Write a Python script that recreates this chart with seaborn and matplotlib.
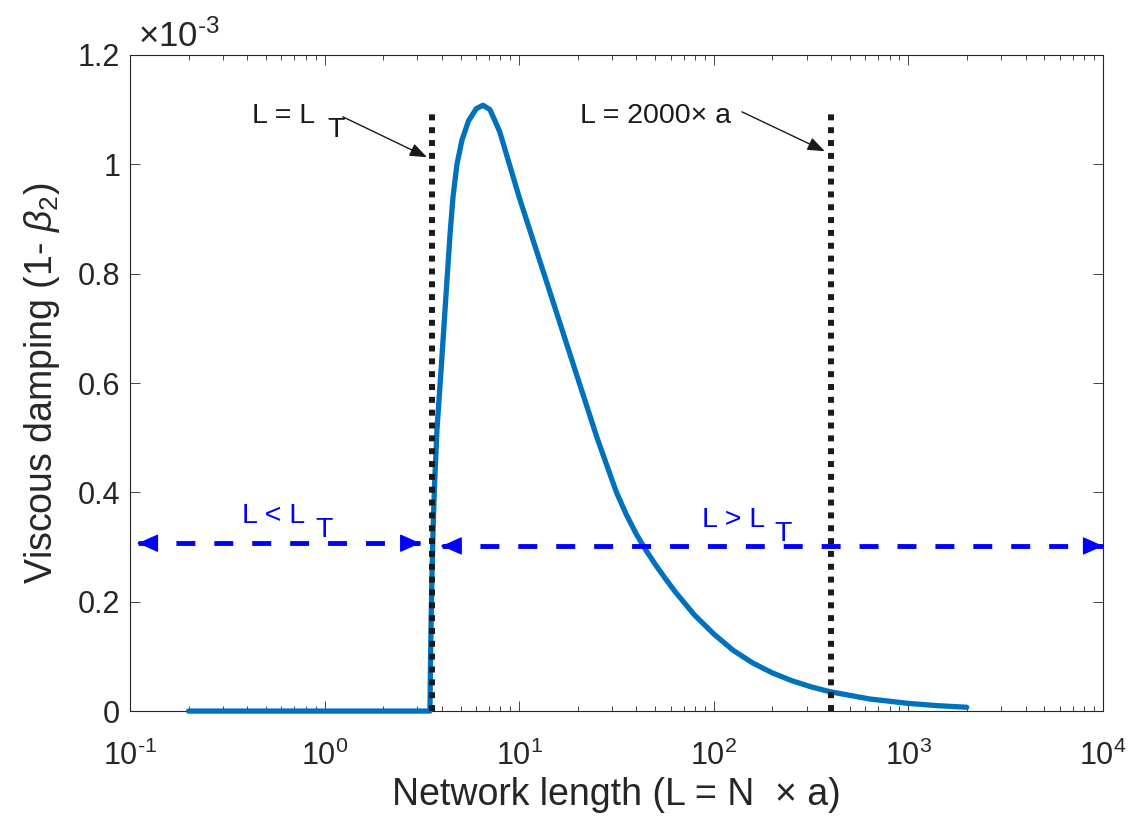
import matplotlib
matplotlib.use('Agg')
import numpy as np
import pandas as pd
import matplotlib.pyplot as plt
import seaborn as sns
from matplotlib.patches import ArrowStyle

# curve (damping in units of 1e-3)
L_vals = [0.2, 3.48, 3.50, 3.53, 3.565, 3.61, 3.67, 3.78, 3.98, 4.26, 4.42, 4.57,
          4.79, 5.08, 5.50, 6.03, 6.52, 7.08, 7.94, 8.91, 10.0, 11.22, 12.59,
          14.13, 15.85, 17.78, 19.95, 22.39, 25.12, 28.18, 31.62, 35.48, 39.81,
          44.67, 50.12, 56.23, 63.10, 79.43, 100.0, 125.9, 158.5, 199.5, 251.2,
          316.2, 398.1, 631.0, 1000.0, 1413.0, 1995.0]
damping = [0.0, 0.0, 0.08, 0.17, 0.25, 0.33, 0.41, 0.514, 0.63, 0.79, 0.875, 0.94,
           1.0, 1.044, 1.080, 1.102, 1.108, 1.100, 1.06, 1.0, 0.94, 0.885, 0.83,
           0.775, 0.72, 0.665, 0.61, 0.555, 0.50, 0.45, 0.40, 0.36, 0.325,
           0.295, 0.268, 0.243, 0.219, 0.176, 0.141, 0.111, 0.088, 0.070, 0.0557,
           0.0443, 0.0352, 0.0222, 0.014, 0.0099, 0.007]

# marker lines
L_T = 3.57
L_2000 = 400.0
vline_top = 1.1

# double arrows
left_span = [0.11, 3.1]
left_y = 0.307
right_span = [4.0, 1e4]
right_y = 0.302

x_ticks = [0.1, 1, 10, 100, 1000, 10000]
x_tick_labels = [r'$10^{\text{-}1}$', r'$10^{0}$', r'$10^{1}$', r'$10^{2}$',
                 r'$10^{3}$', r'$10^{4}$']
y_ticks = [0, 0.2, 0.4, 0.6, 0.8, 1.0, 1.2]
y_tick_labels = ['0', '0.2', '0.4', '0.6', '0.8', '1', '1.2']

sns.set_theme(style='ticks')
plt.rcParams['font.family'] = ['Liberation Sans', 'DejaVu Sans']
plt.rcParams['mathtext.fontset'] = 'custom'
plt.rcParams['mathtext.rm'] = 'Liberation Sans'
plt.rcParams['mathtext.it'] = 'Liberation Sans:italic'
plt.rcParams['mathtext.default'] = 'regular'
plt.rcParams['axes.unicode_minus'] = False

txt = '#262626'
fig = plt.figure(figsize=(11.33, 8.23), dpi=100)
ax = fig.add_axes([0.1147, 0.136, 0.8588, 0.7972])
ax.set_xscale('log')

df = pd.DataFrame({'L': L_vals, 'damping': damping})
sns.lineplot(data=df, x='L', y='damping', ax=ax, estimator=None, sort=False,
             color='#0072BD', lw=3.8, clip_on=False, zorder=3)

for xv in [L_T, L_2000]:
    ax.plot([xv, xv], [0, vline_top], color='k', lw=4.3, dashes=(1.0, 1.15),
            dash_capstyle='butt', zorder=4, clip_on=False)

# dashed blue double arrows
head = ArrowStyle('-|>', head_length=0.85, head_width=0.38)
for span, yv in [(left_span, left_y), (right_span, right_y)]:
    ax.plot(span, [yv, yv], color='blue', lw=3.5, dashes=(3.9, 3.9), zorder=5)
    ax.annotate('', xy=(span[0], yv), xytext=(span[0] * 1.01, yv),
                arrowprops=dict(arrowstyle=head, color='blue', lw=1,
                                mutation_scale=15, shrinkA=0, shrinkB=0), zorder=6)
    ax.annotate('', xy=(span[1], yv), xytext=(span[1] / 1.01, yv),
                arrowprops=dict(arrowstyle=head, color='blue', lw=1,
                                mutation_scale=15, shrinkA=0, shrinkB=0), zorder=6)

# black pointer arrows
thin = ArrowStyle('-|>', head_length=0.65, head_width=0.25)
ax.annotate('', xy=(3.36, 1.013), xytext=(1.24, 1.087),
            arrowprops=dict(arrowstyle=thin, color='k', lw=1, mutation_scale=16,
                            shrinkA=0, shrinkB=0))
ax.annotate('', xy=(372, 1.024), xytext=(139.6, 1.096),
            arrowprops=dict(arrowstyle=thin, color='k', lw=1, mutation_scale=16,
                            shrinkA=0, shrinkB=0))

fs = 20.5
ax.text(0.424, 1.0755, 'L = L', fontsize=fs, color='k', va='baseline')
ax.text(1.03, 1.05, 'T', fontsize=fs, color='k', va='baseline')
ax.text(20.5, 1.0755, 'L = 2000× a', fontsize=fs, color='k', va='baseline')
ax.text(0.376, 0.344, 'L < L', fontsize=fs, color='blue', va='baseline')
ax.text(0.893, 0.318, 'T', fontsize=fs, color='blue', va='baseline')
ax.text(86.9, 0.3366, 'L > L', fontsize=fs, color='blue', va='baseline')
ax.text(206, 0.311, 'T', fontsize=fs, color='blue', va='baseline')

ax.set_xlim(0.1, 1e4)
ax.set_ylim(0, 1.2)
ax.set_xticks(x_ticks)
ax.set_xticklabels(x_tick_labels)
ax.set_yticks(y_ticks)
ax.set_yticklabels(y_tick_labels)
ax.tick_params(which='both', direction='in', top=True, right=True,
               colors=txt, labelcolor=txt, width=0.6, labelsize=22)
ax.tick_params(which='major', length=7)
ax.tick_params(which='minor', length=3.5)
ax.tick_params(axis='x', pad=21)
ax.tick_params(axis='y', pad=7)
for sp in ax.spines.values():
    sp.set_color(txt)
    sp.set_linewidth(0.8)

ax.text(0.008, 1.012, r'$\times10^{\text{-}3}$', transform=ax.transAxes, fontsize=25,
        color=txt, va='baseline', ha='left')

ax.set_xlabel('Network length (L = N  × a)', fontsize=27, color=txt, labelpad=4)
ax.set_ylabel(r'Viscous damping (1- $\mathit{\beta}_{2}$)', fontsize=27, color=txt,
              labelpad=11)

fig.savefig('out.png', dpi=100)
